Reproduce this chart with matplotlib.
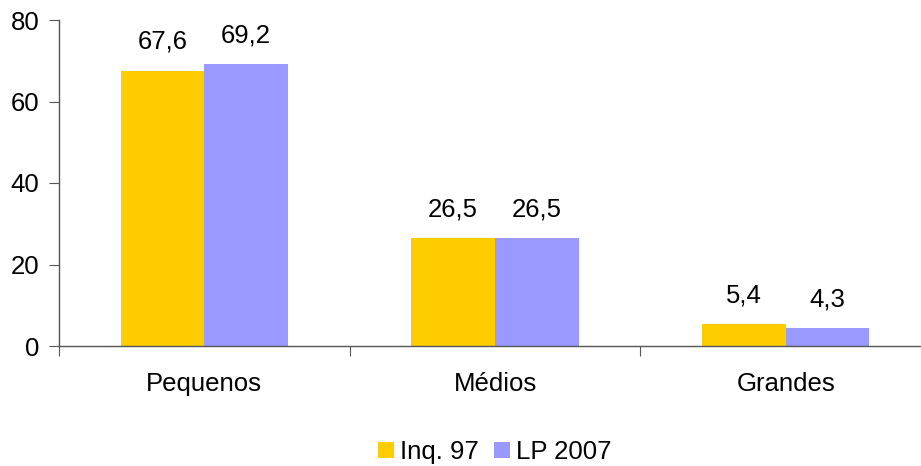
import matplotlib
matplotlib.use("Agg")
import matplotlib.pyplot as plt
import numpy as np
from matplotlib.patches import Patch

categories = ["Pequenos", "Médios", "Grandes"]
inq97 = [67.6, 26.5, 5.4]
lp2007 = [69.2, 26.5, 4.3]
series_names = ["Inq. 97", "LP 2007"]
y_ticks = [0, 20, 40, 60, 80]

colors = ["#FFCC00", "#9999FF"]

plt.rcParams['font.family'] = ['Liberation Sans', 'DejaVu Sans']
FS = 18.5

fig = plt.figure(figsize=(9.21, 4.66), dpi=100)
ax = fig.add_axes([59/921, 120/466, (931-59)/921, (346-20)/466])

x = np.arange(len(categories))
w = 0.288
b1 = ax.bar(x - w/2, inq97, w, color=colors[0], linewidth=0)
b2 = ax.bar(x + w/2, lp2007, w, color=colors[1], linewidth=0)

def fmt(v):
    return f"{v:.1f}".replace(".", ",")

for bars, vals in ((b1, inq97), (b2, lp2007)):
    for rect, v in zip(bars, vals):
        ax.annotate(fmt(v), (rect.get_x() + rect.get_width()/2, v),
                    xytext=(0, 12), textcoords="offset points",
                    ha="center", va="bottom", fontsize=FS)

ax.set_xlim(-0.5, 2.5)
ax.set_ylim(0, 80)
ax.set_yticks(y_ticks)
ax.set_yticklabels([str(t) for t in y_ticks], fontsize=FS)
ax.set_xticks([-0.5, 0.5, 1.5, 2.5])
ax.set_xticklabels([])
ax.set_xticks(x, minor=True)
ax.set_xticklabels(categories, minor=True, fontsize=FS)
ax.tick_params(axis="x", which="minor", length=0, pad=19)
ax.tick_params(axis="x", which="major", length=7, direction="out", color="#555555")
ax.tick_params(axis="y", length=7, direction="out", color="#555555", pad=7)

for s in ("top", "right"):
    ax.spines[s].set_visible(False)
for s in ("left", "bottom"):
    ax.spines[s].set_color("#555555")
    ax.spines[s].set_linewidth(1.0)

handles = [Patch(facecolor=c, edgecolor="none") for c in colors]
fig.legend(handles, series_names, loc="center", bbox_to_anchor=(495/921, 1 - 452/466),
           ncol=2, frameon=False, fontsize=FS, handlelength=0.6, handleheight=0.6,
           handletextpad=0.25, columnspacing=0.6)

fig.savefig("out.png", dpi=100)
